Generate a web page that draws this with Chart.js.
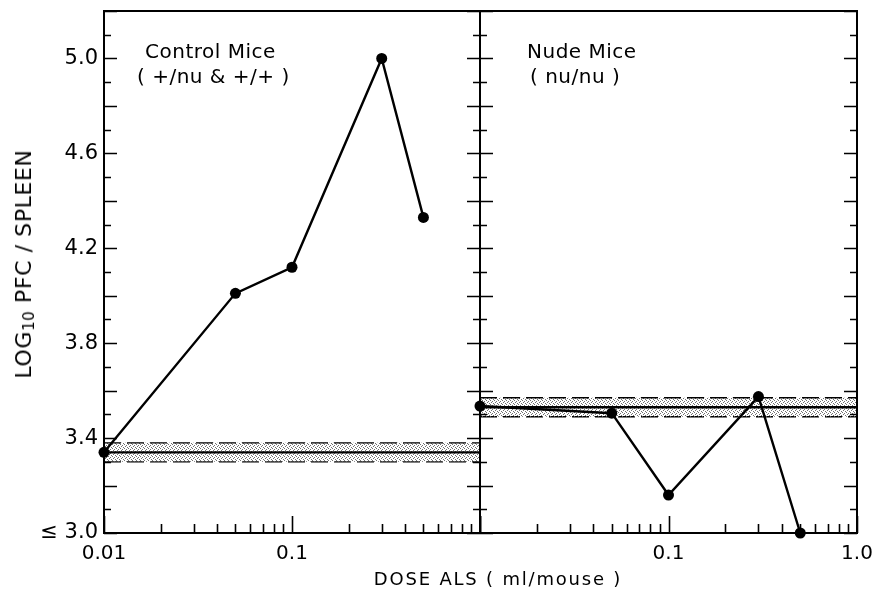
<!DOCTYPE html>
<html>
<head>
<meta charset="utf-8">
<script src="https://cdn.jsdelivr.net/npm/chart.js@4/dist/chart.umd.min.js"></script>
<style>
  html, body { margin: 0; padding: 0; background: #fff; }
  #wrap { position: relative; width: 876px; height: 596px; overflow: hidden; font-family: 'DejaVu Sans', sans-serif; color: #000; }
  canvas { position: absolute; top: 0; }
  #left-chart { left: 0; }
  #right-chart { left: 470px; }
  .txt { position: absolute; white-space: nowrap; font-size: 20px; line-height: 20px; letter-spacing: 0.5px; }
  #y-title { left: 24px; top: 264px; font-size: 22px; letter-spacing: 0.6px; transform: translate(-50%, -50%) rotate(-90deg); }
  #y-title sub { font-size: 15px; vertical-align: -3px; line-height: 0; }
  #x-title { left: 498px; top: 579px; font-size: 18px; letter-spacing: 1.8px; transform: translate(-50%, -50%); }
</style>
</head>
<body>
<div id="wrap">
  <canvas id="left-chart" width="490" height="596"></canvas>
  <canvas id="right-chart" width="406" height="596"></canvas>
  <div class="txt" style="left:145px; top:41px;">Control Mice</div>
  <div class="txt" style="left:137px; top:66px;">( +/nu &amp; +/+ )</div>
  <div class="txt" style="left:527px; top:41px;">Nude Mice</div>
  <div class="txt" style="left:530px; top:66px;">( nu/nu )</div>
  <div class="txt" id="y-title">LOG<sub>10</sub> PFC / SPLEEN</div>
  <div class="txt" id="x-title">DOSE ALS ( ml/mouse )</div>
</div>
<script>
// Doses (ml/mouse) and log10 PFC per spleen
const controlDose = [0.01, 0.05, 0.1, 0.3, 0.5];
const controlPfc = [3.34, 4.01, 4.12, 5.00, 4.33];
const nudeDose = [0.01, 0.05, 0.1, 0.3, 0.5];
const nudePfc = [3.535, 3.505, 3.16, 3.575, 3.00];

// Background (unimmunized) level: mean with upper / lower limits
const bandDose = [0.01, 1.0];
const controlBase = [3.34, 3.34];
const controlBaseHi = [3.38, 3.38];
const controlBaseLo = [3.30, 3.30];
const nudeBase = [3.53, 3.53];
const nudeBaseHi = [3.57, 3.57];
const nudeBaseLo = [3.49, 3.49];

// Axis ticks
const doseDecades = [0.01, 0.1];
const doseSteps = [1, 2, 3, 4, 5, 6, 7, 8, 9];
const doseLabelValues = [0.01, 0.1, 1.0];
const leftDoseLabels = ['0.01', '0.1', null];
const rightDoseLabels = [null, '0.1', '1.0'];
const pfcLabelValues = [3.0, 3.4, 3.8, 4.2, 4.6, 5.0];
const pfcLabels = ['\u2264 3.0', '3.4', '3.8', '4.2', '4.6', '5.0'];
const pfcTickTenths = [30, 52]; // minor ticks every 0.1 from 3.0 to 5.2

const near = (a, b) => Math.abs(a - b) < 1e-6;

// tick mark positions (values only; pixels come from the scales)
const doseTicks = [];
doseDecades.forEach(d => doseSteps.forEach(s => doseTicks.push(+(d * s).toPrecision(6))));
doseTicks.push(1);
const pfcTicks = [];
for (let t = pfcTickTenths[0]; t <= pfcTickTenths[1]; t++) pfcTicks.push(t);

// stippled fill for the baseline band
function stipple() {
    const c = document.createElement('canvas');
    c.width = 4; c.height = 4;
    const g = c.getContext('2d');
    g.fillStyle = '#707070';
    [[0, 0], [2, 1], [1, 2], [3, 3]].forEach(([x, y]) => g.fillRect(x, y, 1, 1));
    return g.createPattern(c, 'repeat');
}

const toXY = (xs, ys) => xs.map((x, i) => ({ x: x, y: ys[i] }));

// frame + inward ticks
const framePlugin = {
    id: 'frame',
    afterDraw(chart) {
        const { ctx, chartArea: a, scales } = chart;
        ctx.save();
        ctx.strokeStyle = '#000';
        ctx.lineWidth = 1.6;
        ctx.beginPath();
        pfcTicks.forEach(t => {
            const y = Math.round(scales.y.getPixelForValue(t / 10)) + 0.5;
            const len = t % 2 === 0 ? 13 : 7;
            ctx.moveTo(a.left, y); ctx.lineTo(a.left + len, y);
            ctx.moveTo(a.right, y); ctx.lineTo(a.right - len, y);
        });
        doseTicks.forEach(v => {
            const x = Math.round(scales.x.getPixelForValue(v)) + 0.5;
            const lg = Math.log10(v);
            const len = near(lg, Math.round(lg)) ? 17 : 9;
            ctx.moveTo(x, a.bottom); ctx.lineTo(x, a.bottom - len);
        });
        ctx.stroke();
        ctx.lineWidth = 2;
        ctx.strokeRect(a.left, a.top, a.right - a.left, a.bottom - a.top);
        ctx.restore();
    }
};

function makeChart(id, dose, pfc, base, hi, lo, doseLabels, isLeft) {
    const pattern = stipple();
    return new Chart(document.getElementById(id), {
        type: 'line',
        data: {
            datasets: [
                {
                    data: toXY(dose, pfc),
                    borderColor: '#000',
                    backgroundColor: '#000',
                    borderWidth: 2.4,
                    pointRadius: 5.5,
                    pointBorderWidth: 0,
                    clip: false,
                    fill: false
                },
                {
                    data: toXY(bandDose, base),
                    borderColor: '#000',
                    borderWidth: 2.4,
                    pointRadius: 0,
                    fill: false
                },
                {
                    data: toXY(bandDose, hi),
                    borderColor: '#000',
                    borderWidth: 1.3,
                    borderDash: [17, 6],
                    pointRadius: 0,
                    backgroundColor: pattern,
                    fill: '+1'
                },
                {
                    data: toXY(bandDose, lo),
                    borderColor: '#000',
                    borderWidth: 1.3,
                    borderDash: [17, 6],
                    pointRadius: 0,
                    fill: false
                }
            ]
        },
        options: {
            responsive: false,
            animation: false,
            layout: { padding: { top: 11, left: isLeft ? 0 : 10, right: isLeft ? 10 : 19, bottom: 0 } },
            plugins: { legend: { display: false }, tooltip: { enabled: false } },
            scales: {
                x: {
                    type: 'logarithmic',
                    min: 0.01,
                    max: 1,
                    grid: { display: false, drawTicks: false },
                    border: { display: false },
                    afterBuildTicks: (scale) => {
                        scale.ticks = doseTicks.map(v => ({ value: v }));
                    },
                    afterFit: (scale) => {
                        scale.height = 63;
                        scale.paddingLeft = 0;
                        scale.paddingRight = 0;
                    },
                    ticks: {
                        autoSkip: false,
                        maxRotation: 0,
                        padding: 9,
                        color: '#000',
                        font: { family: 'DejaVu Sans', size: 20 },
                        callback: (v) => {
                            const i = doseLabelValues.findIndex(d => near(d, v));
                            return i >= 0 ? doseLabels[i] : null;
                        }
                    }
                },
                y: {
                    min: 3.0,
                    max: 5.2,
                    grid: { display: false, drawTicks: false },
                    border: { display: false },
                    afterFit: (scale) => {
                        scale.width = isLeft ? 104 : 0;
                        scale.paddingTop = 0;
                        scale.paddingBottom = 0;
                    },
                    ticks: {
                        display: isLeft,
                        stepSize: 0.1,
                        maxTicksLimit: 40,
                        autoSkip: false,
                        padding: 6,
                        color: '#000',
                        font: { family: 'DejaVu Sans', size: 21 },
                        callback: (v) => {
                            const i = pfcLabelValues.findIndex(p => near(p, v));
                            return i >= 0 ? pfcLabels[i] : null;
                        }
                    }
                }
            }
        },
        plugins: [framePlugin]
    });
}

makeChart('left-chart', controlDose, controlPfc, controlBase, controlBaseHi, controlBaseLo, leftDoseLabels, true);
makeChart('right-chart', nudeDose, nudePfc, nudeBase, nudeBaseHi, nudeBaseLo, rightDoseLabels, false);
</script>
</body>
</html>
